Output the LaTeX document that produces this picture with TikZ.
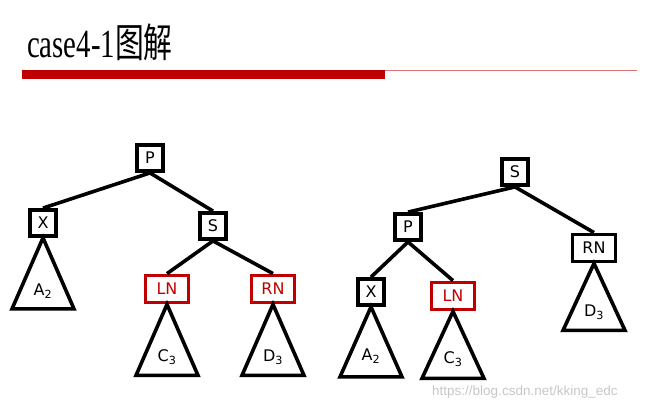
\documentclass[tikz,border=0pt]{standalone}
\usepackage{fontspec}
\setmainfont{Liberation Serif}
\setsansfont{DejaVu Sans}
\newfontfamily\cjk{Noto Sans CJK SC}
\newfontfamily\wmfont{Liberation Sans}
\usepackage{graphicx}
\definecolor{darkred}{HTML}{C00000}

\begin{document}
\begin{tikzpicture}[x=1pt, y=-1pt,
    box/.style = {draw, line width=3.8pt, minimum width=26pt, minimum height=26pt, inner sep=0pt, font=\sffamily\fontsize{16}{16}\selectfont},
    wide/.style = {box, minimum width=43pt, minimum height=27pt},
    redbox/.style = {wide, draw=darkred, text=darkred},
    link/.style = {line width=3.6pt},
    leaf/.style = {inner sep=0pt, font=\sffamily\fontsize{16}{16}\selectfont}]
            \useasboundingbox (0,0) rectangle (658,410);

            % title and bar
            \node[anchor=base west, inner sep=0pt] (title) at (27,57) {\fontsize{40}{40}\selectfont\scalebox{0.72}[1]{case4-1{\cjk 图解}}};
            \fill[darkred] (22,70) rectangle (385,79);
            \draw[darkred!55, line width=0.8pt] (385,70.5) -- (637,70.5);

            % before
            \node[box] (P) at (150,158) {P};
            \node[box] (X) at (43,223) {X};
            \node[box] (S) at (213,226) {S};
            \node[redbox] (LN) at (167,289) {LN};
            \node[redbox] (RN) at (273,289) {RN};

            \draw[link] (P.south) -- (X.north);
            \draw[link] (P.south) -- (S.north);
            \draw[link] (S.south) -- (LN.north);
            \draw[link] (S.south) -- (RN.north);

            \draw[link] (X.south) -- ++(-31,71) -- ++(62,0) -- cycle;
            \draw[link] (LN.south) -- ++(-31,71) -- ++(62,0) -- cycle;
            \draw[link] (RN.south) -- ++(-31,71) -- ++(62,0) -- cycle;
            \node[leaf] (A) at (43,291) {A\textsubscript{2}};
            \node[leaf] (C) at (167,357) {C\textsubscript{3}};
            \node[leaf] (D) at (273,357) {D\textsubscript{3}};

            % after
            \node[box] (S2) at (515,172) {S};
            \node[box] (P2) at (408,227) {P};
            \node[wide] (RN2) at (594,248) {RN};
            \node[box] (X2) at (371,292) {X};
            \node[redbox] (LN2) at (453,296) {LN};

            \draw[link] (S2.south) -- (P2.north);
            \draw[link] (S2.south) -- (RN2.north);
            \draw[link] (P2.south) -- (X2.north);
            \draw[link] (P2.south) -- (LN2.north);

            \draw[link] (X2.south) -- ++(-31,70) -- ++(62,0) -- cycle;
            \draw[link] (LN2.south) -- ++(-31,67) -- ++(62,0) -- cycle;
            \draw[link] (RN2.south) -- ++(-31,67) -- ++(62,0) -- cycle;
            \node[leaf] (A2) at (371,356) {A\textsubscript{2}};
            \node[leaf] (C2) at (453,359) {C\textsubscript{3}};
            \node[leaf] (D2) at (594,312) {D\textsubscript{3}};

            \node[text=black!22, font=\wmfont\fontsize{13.5}{13.5}\selectfont, anchor=west, inner sep=0pt] (mark) at (432,392) {https://blog.csdn.net/kking\_edc};
        \end{tikzpicture}
\end{document}
